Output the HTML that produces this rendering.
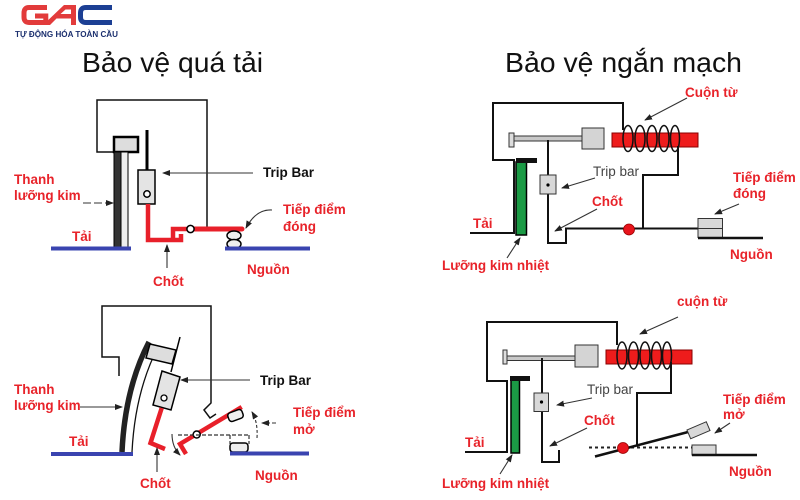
<!DOCTYPE html>
<html><head><meta charset="utf-8">
<style>
html,body{margin:0;padding:0;background:#fff;}
svg{display:block;}
text{font-family:"Liberation Sans",sans-serif;}
.r{fill:#e8232a;font-weight:bold;font-size:13.5px;}
.k{fill:#111;font-weight:bold;font-size:13.5px;}
.g{fill:#444;font-size:13.5px;}
.t{fill:#111;font-size:28px;}
.ln{stroke:#111;fill:none;}
.ar{stroke:#333;stroke-width:1.1;fill:none;}
</style></head><body>
<svg width="800" height="500" viewBox="0 0 800 500" xmlns="http://www.w3.org/2000/svg">
<defs>
<marker id="ah" markerWidth="8" markerHeight="8" refX="7" refY="4" orient="auto" markerUnits="userSpaceOnUse"><path d="M0,1 L8,4 L0,7 z" fill="#222"/></marker>
</defs>
<rect width="800" height="500" fill="#fff"/>

<!-- Logo -->
<path d="M47,7.5 H29 Q24,7.5 24,13 V17 Q24,22.5 29,22.5 H45.8 V16 H35" stroke="#e23b3b" stroke-width="5" fill="none"/>
<path fill-rule="evenodd" fill="#e23b3b" d="M43,25 L64,5 H76 V25 H71 V18.5 H56.5 L50,25 Z M60.5,14 H71 V9.5 H65.5 Z"/>
<path d="M112,7.5 H86 Q80.5,7.5 80.5,13 V17 Q80.5,22.5 86,22.5 H112" stroke="#1c3f94" stroke-width="5" fill="none"/>
<text x="15" y="37" font-size="8.1" font-weight="bold" fill="#1b2f6e" textLength="103" lengthAdjust="spacingAndGlyphs">TỰ ĐỘNG HÓA TOÀN CẦU</text>

<!-- Titles -->
<text class="t" x="82" y="72" textLength="181" lengthAdjust="spacingAndGlyphs">Bảo vệ quá tải</text>
<text class="t" x="505" y="72" textLength="237" lengthAdjust="spacingAndGlyphs">Bảo vệ ngắn mạch</text>

<!-- ===== Top-left ===== -->
<path class="ln" stroke-width="1.5" d="M114,152 H97 V100 H207 V229"/>
<rect x="114" y="137" width="24" height="15" fill="#ddd" stroke="#000" stroke-width="2.5"/>
<rect x="114" y="152" width="7" height="96" fill="#333" stroke="#000" stroke-width="1"/>
<rect x="121" y="152" width="7" height="96" fill="#eee" stroke="#000" stroke-width="1"/>
<line x1="147" y1="130" x2="147" y2="170" stroke="#000" stroke-width="3"/>
<rect x="138" y="170" width="17" height="34" fill="#e4e4e4" stroke="#000" stroke-width="1.5"/>
<circle cx="147" cy="194" r="3.2" fill="#fff" stroke="#000" stroke-width="1.5"/>
<path d="M148,204 V240 H181 V234" stroke="#e8202a" stroke-width="4.5" fill="none"/>
<path d="M173,240 V229 H187" stroke="#e8202a" stroke-width="4.5" fill="none"/>
<path d="M194,229 H242" stroke="#e8202a" stroke-width="5" stroke-linecap="round" fill="none"/>
<circle cx="190.5" cy="229" r="3.6" fill="#fff" stroke="#000" stroke-width="1.5"/>
<ellipse cx="234" cy="235.5" rx="7" ry="4.5" fill="#eee" stroke="#000" stroke-width="1.5"/>
<ellipse cx="234" cy="244" rx="7" ry="4.5" fill="#eee" stroke="#000" stroke-width="1.5"/>
<line x1="51" y1="248.5" x2="131" y2="248.5" stroke="#3a44b0" stroke-width="4"/>
<line x1="225" y1="248.5" x2="310" y2="248.5" stroke="#3a44b0" stroke-width="4"/>

<text class="r" x="14" y="184">Thanh</text>
<text class="r" x="14" y="200">lưỡng kim</text>
<line class="ar" x1="83" y1="203" x2="113" y2="203" stroke-dasharray="8,3" marker-end="url(#ah)"/>
<text class="r" x="72" y="241">Tải</text>
<text class="k" x="263" y="177">Trip Bar</text>
<line class="ar" x1="253" y1="173" x2="163" y2="173" marker-end="url(#ah)"/>
<text class="r" x="283" y="214">Tiếp điểm</text>
<text class="r" x="283" y="231">đóng</text>
<path class="ar" d="M272,210 Q256,209 246,228" marker-end="url(#ah)"/>
<text class="r" x="153" y="286">Chốt</text>
<line class="ar" x1="167" y1="268" x2="167" y2="245" marker-end="url(#ah)"/>
<text class="r" x="247" y="274">Nguồn</text>

<!-- ===== Bottom-left ===== -->
<path class="ln" stroke-width="1.5" d="M119,376 V357 H102 V306 H211 V403 L204,410 L210,418 L216,414"/>
<path d="M122,452 Q125,388 149,342" stroke="#222" stroke-width="5.5" fill="none"/>
<path d="M132,452 Q135,392 158,347" stroke="#111" stroke-width="1.3" fill="none"/>
<polygon points="150,344 176,350 172,364 146,358" fill="#ddd" stroke="#000" stroke-width="1.5"/>
<line x1="180" y1="337" x2="171" y2="372" stroke="#000" stroke-width="1.5"/>
<polygon points="162,371 180,377 171,410 153,405" fill="#e4e4e4" stroke="#000" stroke-width="1.5"/>
<circle cx="164" cy="398" r="3" fill="#fff" stroke="#000" stroke-width="1.3"/>
<polyline points="161.7,408 150.5,443 165,449" stroke="#e8202a" stroke-width="4.5" fill="none"/>
<polyline points="241.7,407 180,444 186,454" stroke="#e8202a" stroke-width="4.5" fill="none"/>
<circle cx="196.7" cy="434.5" r="3.5" fill="#fff" stroke="#000" stroke-width="1.5"/>
<path d="M178,435 H249 M230,435 V444 M249,435 V444" stroke="#333" stroke-width="1.2" stroke-dasharray="4,2" fill="none"/>
<rect x="228" y="411" width="15" height="9" rx="3" fill="#eee" stroke="#000" stroke-width="1.5" transform="rotate(-20 235.5 415.5)"/>
<rect x="230" y="443" width="18" height="9" rx="3" fill="#eee" stroke="#000" stroke-width="1.5"/>
<path class="ar" d="M257,438 Q258,422 252,412" stroke-dasharray="3,2" marker-end="url(#ah)"/>
<line class="ar" x1="276" y1="423" x2="262" y2="423" stroke-dasharray="4,2" marker-end="url(#ah)"/>
<path class="ar" d="M172,434 Q172,447 180,455" marker-end="url(#ah)"/>
<line x1="51" y1="454" x2="133" y2="454" stroke="#3a44b0" stroke-width="4"/>
<line x1="230" y1="453.5" x2="309" y2="453.5" stroke="#3a44b0" stroke-width="4"/>

<text class="r" x="14" y="394">Thanh</text>
<text class="r" x="14" y="410">lưỡng kim</text>
<line class="ar" x1="80" y1="407" x2="122" y2="407" marker-end="url(#ah)"/>
<text class="r" x="69" y="446">Tải</text>
<text class="k" x="260" y="385">Trip Bar</text>
<line class="ar" x1="250" y1="380" x2="181" y2="380" marker-end="url(#ah)"/>
<text class="r" x="293" y="417">Tiếp điểm</text>
<text class="r" x="293" y="434">mở</text>
<text class="r" x="140" y="488">Chốt</text>
<line class="ar" x1="157" y1="472" x2="157" y2="448" marker-end="url(#ah)"/>
<text class="r" x="255" y="480">Nguồn</text>

<!-- ===== Top-right ===== -->
<path class="ln" stroke-width="2" d="M470,233 H514 V160 H493 V103 H623 V130"/>
<rect x="516" y="162" width="10.5" height="73" fill="#1b9a45" stroke="#000" stroke-width="1.5"/>
<rect x="516" y="158" width="21" height="5" fill="#111"/>
<rect x="509" y="133" width="5" height="14" fill="#ddd" stroke="#333" stroke-width="1"/>
<rect x="514" y="136" width="68" height="5" fill="#c8c8c8" stroke="#333" stroke-width="1"/>
<rect x="582" y="128" width="22" height="21" fill="#d4d4d4" stroke="#333" stroke-width="1"/>
<rect x="612" y="133" width="86" height="14" fill="#ee1c1c" stroke="#8a0000" stroke-width="1"/>
<g fill="none" stroke="#111" stroke-width="1.5">
<ellipse cx="628" cy="138.5" rx="5" ry="13"/>
<ellipse cx="640" cy="138.5" rx="5" ry="13"/>
<ellipse cx="652" cy="138.5" rx="5" ry="13"/>
<ellipse cx="664" cy="138.5" rx="5" ry="13"/>
<ellipse cx="675" cy="138.5" rx="4.5" ry="13"/>
</g>
<path class="ln" stroke-width="2" d="M678,146 V175 H643 V228.5"/>
<path class="ln" stroke-width="2" d="M548,140 V243 H566 V228.5 H698"/>
<rect x="540" y="175" width="16" height="19" fill="#d8d8d8" stroke="#333" stroke-width="1"/>
<circle cx="548" cy="185" r="1.6" fill="#000"/>
<circle cx="629" cy="229.5" r="5.5" fill="#e8141c" stroke="#900" stroke-width="0.8"/>
<rect x="698" y="218.5" width="24.5" height="19" fill="#d8d8d8" stroke="#333" stroke-width="1"/>
<line x1="698" y1="228.5" x2="722.5" y2="228.5" stroke="#333" stroke-width="1"/>
<line x1="698" y1="238" x2="763" y2="238" stroke="#111" stroke-width="2.5"/>

<text class="r" x="685" y="97">Cuộn từ</text>
<line class="ar" x1="687" y1="98" x2="645" y2="120" marker-end="url(#ah)"/>
<text class="g" x="593" y="176">Trip bar</text>
<line class="ar" x1="595" y1="178" x2="562" y2="188" marker-end="url(#ah)"/>
<text class="r" x="592" y="206">Chốt</text>
<line class="ar" x1="597" y1="209" x2="555" y2="231" marker-end="url(#ah)"/>
<text class="r" x="473" y="228">Tải</text>
<text class="r" x="442" y="270">Lưỡng kim nhiệt</text>
<line class="ar" x1="507" y1="258" x2="520" y2="238" marker-end="url(#ah)"/>
<text class="r" x="733" y="182">Tiếp điểm</text>
<text class="r" x="733" y="198">đóng</text>
<line class="ar" x1="739" y1="204" x2="715" y2="214" marker-end="url(#ah)"/>
<text class="r" x="730" y="259">Nguồn</text>

<!-- ===== Bottom-right ===== -->
<path class="ln" stroke-width="2" d="M465,452 H507 V381 H487 V322 H617 V345"/>
<rect x="511" y="380" width="8.5" height="73" fill="#1b9a45" stroke="#000" stroke-width="1.5"/>
<rect x="510" y="376" width="20" height="5" fill="#111"/>
<rect x="503" y="350" width="4" height="14" fill="#ddd" stroke="#333" stroke-width="1"/>
<rect x="507" y="356" width="68" height="4.5" fill="#c8c8c8" stroke="#333" stroke-width="1"/>
<rect x="575" y="345" width="23" height="22" fill="#d4d4d4" stroke="#333" stroke-width="1"/>
<rect x="606" y="350" width="86" height="14" fill="#ee1c1c" stroke="#8a0000" stroke-width="1"/>
<g fill="none" stroke="#111" stroke-width="1.5">
<ellipse cx="622" cy="355.5" rx="5" ry="13.5"/>
<ellipse cx="633.5" cy="355.5" rx="5" ry="13.5"/>
<ellipse cx="645" cy="355.5" rx="5" ry="13.5"/>
<ellipse cx="656.5" cy="355.5" rx="5" ry="13.5"/>
<ellipse cx="667" cy="355.5" rx="4.5" ry="13.5"/>
</g>
<path class="ln" stroke-width="2" d="M671,362 V393 H637 V445"/>
<path class="ln" stroke-width="2" d="M542,358 V462 H559 V450"/>
<rect x="534" y="393" width="14.5" height="18.5" fill="#d8d8d8" stroke="#333" stroke-width="1"/>
<circle cx="541.5" cy="402" r="1.6" fill="#000"/>
<line x1="589" y1="447.5" x2="692" y2="447.5" stroke="#222" stroke-width="2" stroke-dasharray="3,3"/>
<line x1="595" y1="456.5" x2="690" y2="431.5" stroke="#111" stroke-width="2.5"/>
<circle cx="623" cy="448" r="5.5" fill="#e8141c" stroke="#900" stroke-width="0.8"/>
<rect x="688" y="425.5" width="21" height="9.5" fill="#d8d8d8" stroke="#333" stroke-width="1" transform="rotate(-23 698.5 430.3)"/>
<rect x="692" y="445" width="24" height="10" fill="#d8d8d8" stroke="#333" stroke-width="1"/>
<line x1="692" y1="455" x2="757" y2="455" stroke="#111" stroke-width="2.5"/>

<text class="r" x="677" y="306">cuộn từ</text>
<line class="ar" x1="678" y1="317" x2="640" y2="334" marker-end="url(#ah)"/>
<text class="g" x="587" y="394">Trip bar</text>
<line class="ar" x1="592" y1="398" x2="557" y2="405" marker-end="url(#ah)"/>
<text class="r" x="584" y="425">Chốt</text>
<line class="ar" x1="587" y1="428" x2="550" y2="446" marker-end="url(#ah)"/>
<text class="r" x="465" y="447">Tải</text>
<text class="r" x="442" y="488">Lưỡng kim nhiệt</text>
<line class="ar" x1="500" y1="474" x2="512" y2="455" marker-end="url(#ah)"/>
<text class="r" x="723" y="404">Tiếp điểm</text>
<text class="r" x="723" y="419">mở</text>
<line class="ar" x1="730" y1="423" x2="715" y2="433" marker-end="url(#ah)"/>
<text class="r" x="729" y="476">Nguồn</text>
</svg>
</body></html>
